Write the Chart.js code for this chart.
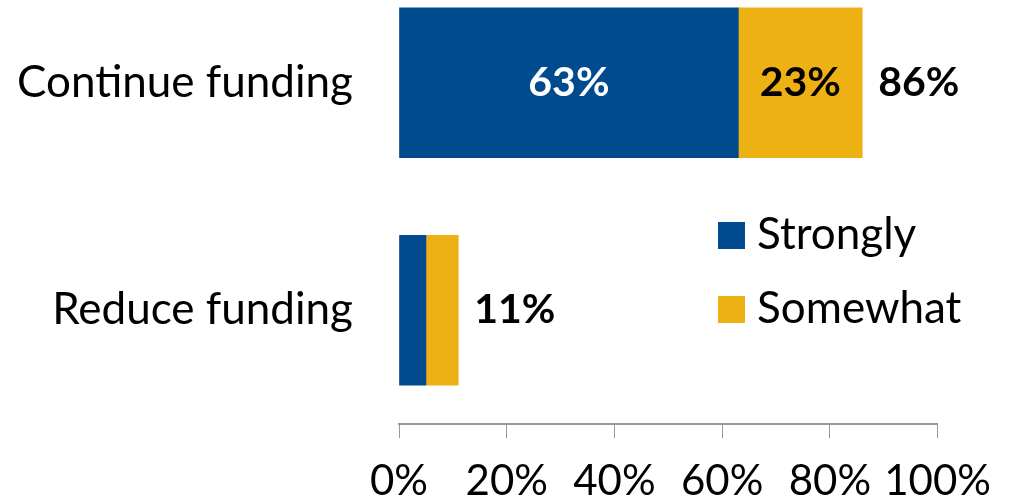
<!DOCTYPE html>
<html>
<head>
<meta charset="utf-8">
<script src="https://cdn.jsdelivr.net/npm/chart.js@4.4.1/dist/chart.umd.min.js"></script>
<style>
  html, body { margin: 0; padding: 0; background: #fff; overflow: hidden; }
  #wrap { position: absolute; left: 0; top: -31px; width: 1009px; height: 533px; }
</style>
</head>
<body>
<div id="wrap"><canvas id="chart"></canvas></div>
<script>
// ── Data ──
const categories = ['Continue funding', 'Reduce funding'];
const strongly = [63, 5];
const somewhat = [23, 6];
const seriesNames = ['Strongly', 'Somewhat'];
const xTicks = [0, 20, 40, 60, 80, 100];

const blue = '#004B8D';
const gold = '#EEB114';
const font = 'Lato';

// Segment labels + totals drawn on top of the bars
const barLabels = {
  id: 'barLabels',
  afterDatasetsDraw(chart) {
    const ctx = chart.ctx;
    ctx.save();
    ctx.font = 'bold 41px ' + font;
    ctx.textBaseline = 'middle';
    chart.data.datasets.forEach((ds, i) => {
      chart.getDatasetMeta(i).data.forEach((bar, j) => {
        if (ds.data[j] < 10) return;
        ctx.fillStyle = i === 0 ? '#fff' : '#000';
        ctx.textAlign = 'center';
        ctx.fillText(ds.data[j] + '%', (bar.x + bar.base) / 2, bar.y);
      });
    });
    // totals at the end of each stack
    const last = chart.getDatasetMeta(chart.data.datasets.length - 1).data;
    last.forEach((bar, j) => {
      const total = strongly[j] + somewhat[j];
      ctx.fillStyle = '#000';
      ctx.textAlign = 'left';
      ctx.fillText(total + '%', bar.x + 16, bar.y);
    });
    ctx.restore();
  }
};

// Legend inside the plot, right side
const sideLegend = {
  id: 'sideLegend',
  afterDraw(chart) {
    const ctx = chart.ctx;
    ctx.save();
    ctx.font = '44px ' + font;
    ctx.textBaseline = 'middle';
    ctx.textAlign = 'left';
    chart.data.datasets.forEach((ds, i) => {
      const cy = 266 + i * 74;
      ctx.fillStyle = ds.backgroundColor;
      ctx.fillRect(718, cy - 13, 27, 27);
      ctx.fillStyle = '#000';
      ctx.fillText(ds.label, 757, cy);
    });
    ctx.restore();
  }
};

new Chart(document.getElementById('chart').getContext('2d'), {
  type: 'bar',
  data: {
    labels: categories,
    datasets: [
      { label: seriesNames[0], data: strongly, backgroundColor: blue, barThickness: 150 },
      { label: seriesNames[1], data: somewhat, backgroundColor: gold, barThickness: 150 }
    ]
  },
  options: {
    indexAxis: 'y',
    responsive: true,
    maintainAspectRatio: false,
    animation: false,
    layout: { padding: { top: 0, right: 71, bottom: 0, left: 0 } },
    plugins: { legend: { display: false }, tooltip: { enabled: false } },
    scales: {
      x: {
        stacked: true,
        min: 0,
        max: 100,
        afterBuildTicks: s => { s.ticks = xTicks.map(v => ({ value: v })); },
        afterFit: s => { s.height = 78; },
        grid: { drawOnChartArea: false, drawTicks: true, tickLength: 14, color: '#999' },
        border: { display: true, color: '#999', width: 2 },
        ticks: {
          color: '#000',
          padding: 18,
          maxRotation: 0,
          autoSkip: false,
          font: { family: font, size: 42 },
          callback: v => v + '%'
        }
      },
      y: {
        stacked: true,
        afterFit: s => { s.width = 399; s.paddingTop = 0; s.paddingBottom = 0; },
        grid: { display: false, drawTicks: false },
        border: { display: false },
        ticks: { color: '#000', padding: 46, font: { family: font, size: 44 } }
      }
    }
  },
  plugins: [barLabels, sideLegend]
});
</script>
</body>
</html>
